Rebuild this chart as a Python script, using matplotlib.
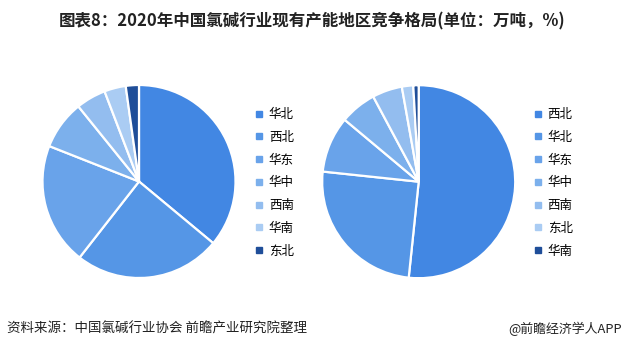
import matplotlib
matplotlib.use("Agg")
import matplotlib.pyplot as plt
from matplotlib.lines import Line2D

plt.rcParams['font.family'] = ['Noto Sans CJK SC', 'DejaVu Sans']

title = "图表8：2020年中国氯碱行业现有产能地区竞争格局(单位：万吨，%)"
source = "资料来源：中国氯碱行业协会 前瞻产业研究院整理"
brand = "@前瞻经济学人APP"

left_labels = ["华北", "西北", "华东", "华中", "西南", "华南", "东北"]
left_values = [36.0, 24.5, 20.4, 8.2, 5.0, 3.6, 2.2]
right_labels = ["西北", "华北", "华东", "华中", "西南", "东北", "华南"]
right_values = [51.6, 25.0, 9.4, 6.1, 5.0, 1.9, 0.9]

colors = ["#4287E3", "#5596E6", "#69A3EA", "#7CB0EC", "#93BDEF", "#AACCF3", "#1F4E99"]

W, H = 624, 351
fig = plt.figure(figsize=(W / 100, H / 100), dpi=100)
fig.patch.set_facecolor("white")

R = 96.5


def draw(cx, cy, labels, values, legend_x):
    ax = fig.add_axes([(cx - R) / W, (H - cy - R) / H, 2 * R / W, 2 * R / H])
    ax.pie(values, colors=colors, startangle=90, counterclock=False,
           radius=1.0,
           wedgeprops=dict(edgecolor="white", linewidth=1.6))
    ax.set_xlim(-1.0, 1.0)
    ax.set_ylim(-1.0, 1.0)
    ax.set_aspect("auto")
    ax.axis("off")
    handles = [Line2D([0], [0], marker="s", linestyle="none", markersize=4.5,
                      markerfacecolor=c, markeredgecolor=c) for c in colors]
    fig.legend(handles, labels, loc="upper left",
               bbox_to_anchor=(legend_x / W, (H - 108) / H),
               frameon=False, fontsize=9, handlelength=0.6, handletextpad=0.5,
               labelspacing=0.78, borderaxespad=0, borderpad=0)


draw(139, 181.5, left_labels, left_values, 255)
draw(418.7, 181.7, right_labels, right_values, 534)

fig.text(0.5, (H - 21) / H, title, ha="center", va="center",
         fontsize=11.9, fontweight="bold", color="#222222")
fig.text(7 / W, (H - 329) / H, source, ha="left", va="center",
         fontsize=9.7, color="#222222")
fig.text(622 / W, (H - 329) / H, brand, ha="right", va="center",
         fontsize=9.3, color="#222222")

fig.savefig("out.png", dpi=100, facecolor="white")
